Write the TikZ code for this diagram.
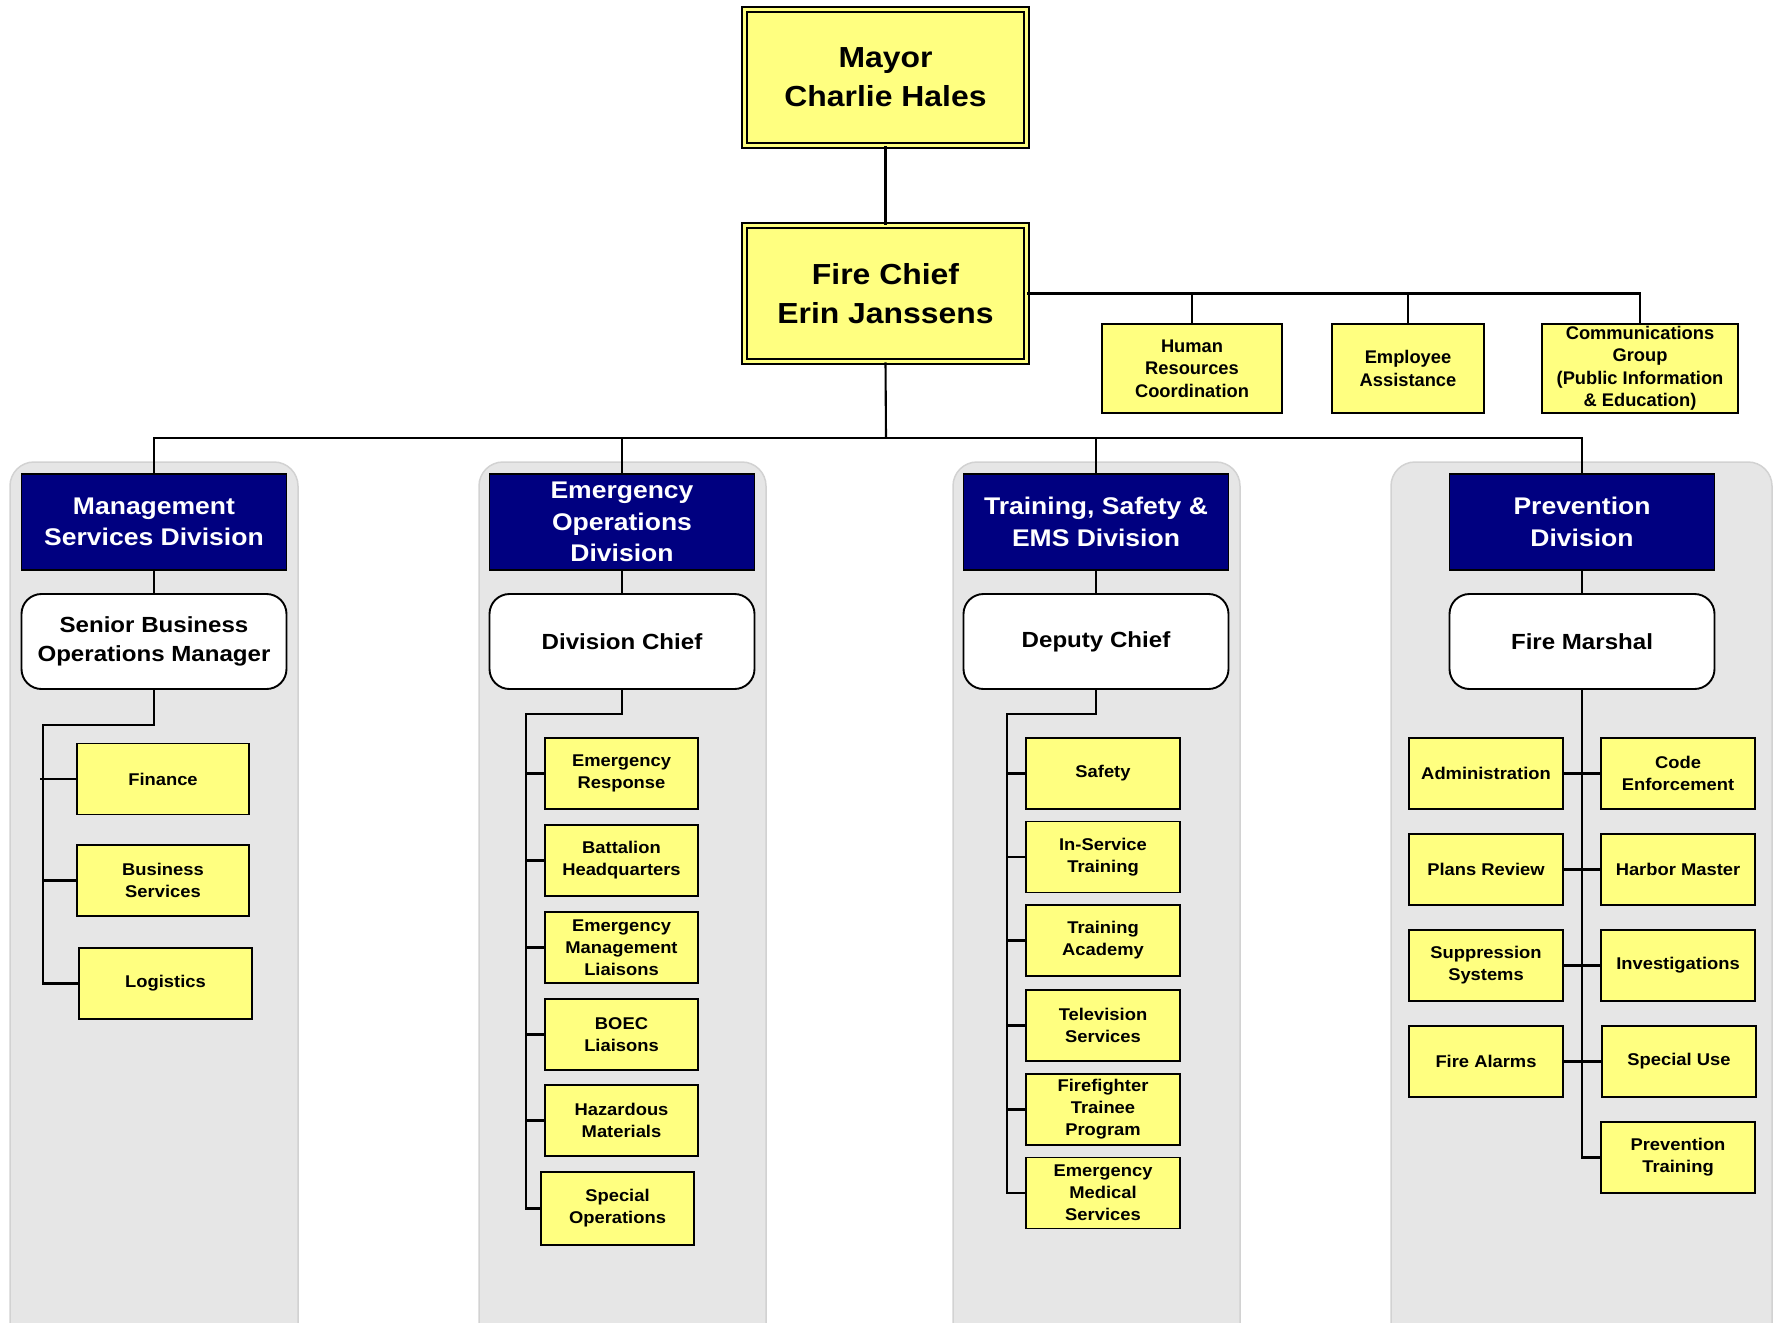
\documentclass[tikz,border=0pt]{standalone}
\usepackage{fontspec}
\setmainfont{Liberation Sans}[FakeStretch=1.08]
\newfontfamily\bigf{Liberation Sans}[FakeStretch=1.1]
\newfontfamily\plainf{Liberation Sans}
\definecolor{yel}{HTML}{FFFF80}
\definecolor{navyc}{HTML}{000080}
\definecolor{panelc}{HTML}{E6E6E6}
\definecolor{paneld}{HTML}{D2D2D2}
\tikzset{
 ybox/.style={draw=black, line width=1.9pt, fill=yel, align=center, inner sep=0pt, font=\bfseries\fontsize{17}{22}\selectfont, minimum width=153pt, minimum height=71pt},
 staff/.style={ybox, font=\plainf\bfseries\fontsize{18.3}{22.5}\selectfont, minimum height=89pt},
 topbox/.style={draw=black, line width=1.7pt, double=yel, double distance=3.3pt, fill=yel, align=center, inner sep=0pt, font=\bigf\bfseries\fontsize{29}{39}\selectfont, minimum width=282pt, minimum height=136pt},
 divhead/.style={draw=black, line width=1.9pt, fill=navyc, text=white, align=center, inner sep=0pt, font=\bigf\bfseries\fontsize{24.1}{31.5}\selectfont, minimum width=265pt, minimum height=96pt},
 chiefbox/.style={draw=black, line width=1.9pt, fill=white, rounded corners=20pt, align=center, inner sep=0pt, font=\bigf\bfseries\fontsize{21.9}{29}\selectfont, minimum width=265pt, minimum height=95pt},
 panel/.style={fill=panelc, draw=paneld, line width=1.5pt, rounded corners=24pt},
 conn/.style={draw=black, line width=2.1pt},
}
\begin{document}
\begin{tikzpicture}[x=1pt,y=-1pt]
\useasboundingbox (0,0) rectangle (1774,1322);
\begin{scope}
\clip (0,0) rectangle (1774,1322);
\draw[panel] (10,462) rectangle (298,1350);
\draw[panel] (479,462) rectangle (766,1350);
\draw[panel] (953,462) rectangle (1240,1350);
\draw[panel] (1391,462) rectangle (1772,1350);
\end{scope}

% top
\node[topbox] (mayor) at (885.5,77.5) {Mayor\\Charlie Hales};
\node[topbox] (chief) at (885.5,293.5) {Fire Chief\\Erin Janssens};
\node[staff, minimum width=180pt] (hr) at (1192,368.5) {Human\\Resources\\Coordination};
\node[staff, minimum width=152pt] (ea) at (1408,368.5) {Employee\\Assistance};
\node[staff, minimum width=196pt] (comm) at (1640,368.5) {Communications\\Group\\(Public Information\\\& Education)};

\draw[conn] (mayor) -- (chief);
\draw[conn] (chief.east) -| (comm.north);
\draw[conn] (hr.north) -- (hr.north |- chief.east);
\draw[conn] (ea.north) -- (ea.north |- chief.east);

% divisions
\node[divhead] (h1) at (154,522) {Management\\Services Division};
\node[divhead] (h2) at (622,522) {Emergency\\Operations\\Division};
\node[divhead] (h3) at (1096,522) {Training, Safety \&\\EMS Division};
\node[divhead] (h4) at (1582,522) {Prevention\\Division};

\coordinate (bus) at (886,438);
\draw[conn] (chief.south) -- (bus);
\draw[conn] (h1.north) |- (bus);
\draw[conn] (h2.north) |- (bus);
\draw[conn] (h3.north) |- (bus);
\draw[conn] (h4.north) |- (bus);

\node[chiefbox] (c1) at (154,641.5) {Senior Business\\Operations Manager};
\node[chiefbox] (c2) at (622,641.5) {Division Chief};
\node[chiefbox] (c3) at (1096,641.5) {Deputy Chief};
\node[chiefbox] (c4) at (1582,641.5) {Fire Marshal};
\draw[conn] (h1) -- (c1);
\draw[conn] (h2) -- (c2);
\draw[conn] (h3) -- (c3);
\draw[conn] (h4) -- (c4);

% column 1
\node[ybox, minimum width=172pt] (fin) at (163,779) {Finance};
\node[ybox, minimum width=172pt] (bs) at (163,880.5) {Business\\Services};
\node[ybox, minimum width=173pt] (log) at (165.5,983.5) {Logistics};
\coordinate (t1) at (43,725);
\draw[conn] (c1.south) |- (t1) |- (log.west);
\draw[conn] ([xshift=-3pt]t1 |- fin.west) -- (fin.west);
\draw[conn] (t1 |- bs.west) -- (bs.west);

% column 2
\node[ybox] (er) at (621.5,773.5) {Emergency\\Response};
\node[ybox] (bh) at (621.5,860.5) {Battalion\\Headquarters};
\node[ybox] (em) at (621.5,947.5) {Emergency\\Management\\Liaisons};
\node[ybox] (bo) at (621.5,1034.5) {BOEC\\Liaisons};
\node[ybox] (hz) at (621.5,1120.5) {Hazardous\\Materials};
\node[ybox, minimum height=73pt] (so) at (617.5,1208.5) {Special\\Operations};
\coordinate (t2) at (526,714);
\draw[conn] (c2.south) |- (t2) |- (so.west);
\foreach \n in {er,bh,em,bo,hz} \draw[conn] (t2 |- \n.west) -- (\n.west);

% column 3
\node[ybox, minimum width=154pt] (sa) at (1103,773.5) {Safety};
\node[ybox, minimum width=154pt] (is) at (1103,857) {In-Service\\Training};
\node[ybox, minimum width=154pt] (ta) at (1103,940.5) {Training\\Academy};
\node[ybox, minimum width=154pt] (tv) at (1103,1025.5) {Television\\Services};
\node[ybox, minimum width=154pt] (ff) at (1103,1109.5) {Firefighter\\Trainee\\Program};
\node[ybox, minimum width=154pt] (ems) at (1103,1193) {Emergency\\Medical\\Services};
\coordinate (t3) at (1007,714);
\draw[conn] (c3.south) |- (t3) |- (ems.west);
\foreach \n in {sa,is,ta,tv,ff} \draw[conn] (t3 |- \n.west) -- (\n.west);

% column 4
\node[ybox, minimum width=154pt] (ad) at (1486,773.5) {Administration};
\node[ybox, minimum width=154pt] (pr) at (1486,869.5) {Plans Review};
\node[ybox, minimum width=154pt] (ss) at (1486,965.5) {Suppression\\Systems};
\node[ybox, minimum width=154pt] (fa) at (1486,1061.5) {Fire Alarms};
\node[ybox, minimum width=154pt] (ce) at (1678,773.5) {Code\\Enforcement};
\node[ybox, minimum width=154pt] (hm) at (1678,869.5) {Harbor Master};
\node[ybox, minimum width=154pt] (inv) at (1678,965.5) {Investigations};
\node[ybox, minimum width=154pt] (su) at (1679,1061.5) {Special Use};
\node[ybox, minimum width=154pt] (pt) at (1678,1157.5) {Prevention\\Training};
\draw[conn] (c4.south) |- (pt.west);
\draw[conn] (ad.east) -- (ce.west);
\draw[conn] (pr.east) -- (hm.west);
\draw[conn] (ss.east) -- (inv.west);
\draw[conn] (fa.east) -- (su.west);
\end{tikzpicture}
\end{document}
